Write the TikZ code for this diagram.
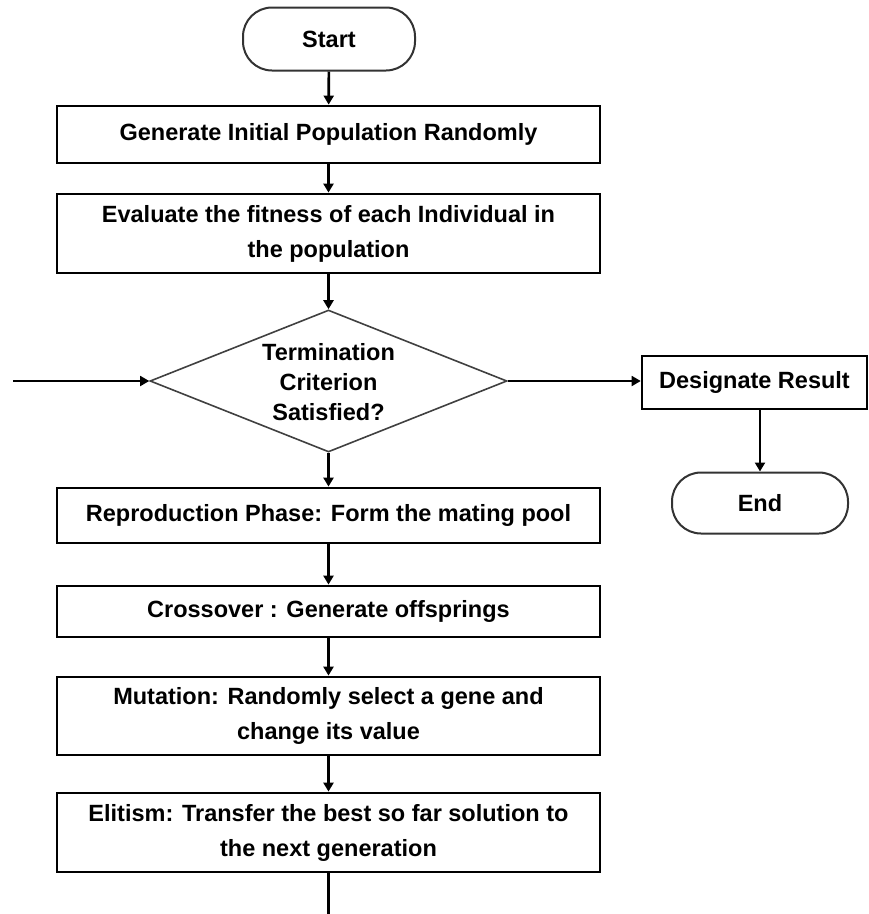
\documentclass[tikz,border=0pt]{standalone}
\usepackage{fontspec}
\setmainfont{Liberation Sans}
\usetikzlibrary{arrows.meta,shapes.geometric}

\tikzset{
  base/.style={font=\fontsize{23.5}{35}\selectfont\bfseries, align=center, inner sep=0pt},
  tight/.style={font=\fontsize{23.5}{30}\selectfont\bfseries, align=center, inner sep=0pt},
  procbox/.style={base, draw=black, line width=2.8pt, minimum width=543pt},
  terminal/.style={base, draw=black!80, line width=2pt, rounded corners=29pt},
  decision/.style={diamond, draw=black!75, line width=1.6pt, inner sep=0pt},
  flow/.style={line width=2.6pt, -{Triangle[length=9pt,width=10pt]}},
  sideflow/.style={line width=1.8pt, -{Triangle[length=9pt,width=10pt]}},
}

\begin{document}
\begin{tikzpicture}[x=1pt,y=1pt]
  \useasboundingbox (0,0) rectangle (869,-914);

  % main column
  \node[terminal, minimum width=172pt, minimum height=63pt] (start) at (329,-39) {Start};
  \node[procbox, minimum height=57pt] (init) at (328.5,-134.5) {Generate Initial Population Randomly};
  \node[procbox, minimum height=79pt] (eval) at (328.5,-233.5)
    {Evaluate the fitness of each Individual in\\the population};

  % decision
  \node[decision, minimum width=357pt, minimum height=142pt] (test) at (328.5,-381) {};
  \node[tight] (testtext) at (328.5,-382)
    {Termination\\Criterion\\Satisfied?};

  \node[procbox, minimum height=55pt] (repro) at (328.5,-515.5) {Reproduction Phase: Form the mating pool};
  \node[procbox, minimum height=51pt] (cross) at (328.5,-611.5) {Crossover : Generate offsprings};
  \node[procbox, minimum height=78pt] (mut) at (328.5,-716)
    {Mutation: Randomly select a gene and\\change its value};
  \node[procbox, minimum height=79pt] (elit) at (328.5,-832.5)
    {Elitism: Transfer the best so far solution to\\the next generation};

  % exit branch
  \node[base, draw=black, line width=2.6pt, minimum width=225pt, minimum height=53pt] (result) at (754.5,-382.5) {Designate Result};
  \node[terminal, minimum width=176pt, minimum height=61pt] (finish) at (760,-503) {End};

  % loose ends of the loop
  \coordinate (loopin) at (13,-381);
  \coordinate (loopout) at (328.5,-914);

  % connectors
  \draw[flow] (start) -- (init);
  \draw[flow] (init) -- (eval);
  \draw[flow] (eval) -- (test);
  \draw[flow] (test) -- (repro);
  \draw[flow] (repro) -- (cross);
  \draw[flow] (cross) -- (mut);
  \draw[flow] (mut) -- (elit);
  \draw[line width=2.6pt] (elit) -- (loopout);
  \draw[sideflow] (loopin) -- (test.west);
  \draw[sideflow] (test.east) -- (result.west |- test.east);
  \draw[flow] (result.south -| finish.north) -- (finish.north);
\end{tikzpicture}
\end{document}
